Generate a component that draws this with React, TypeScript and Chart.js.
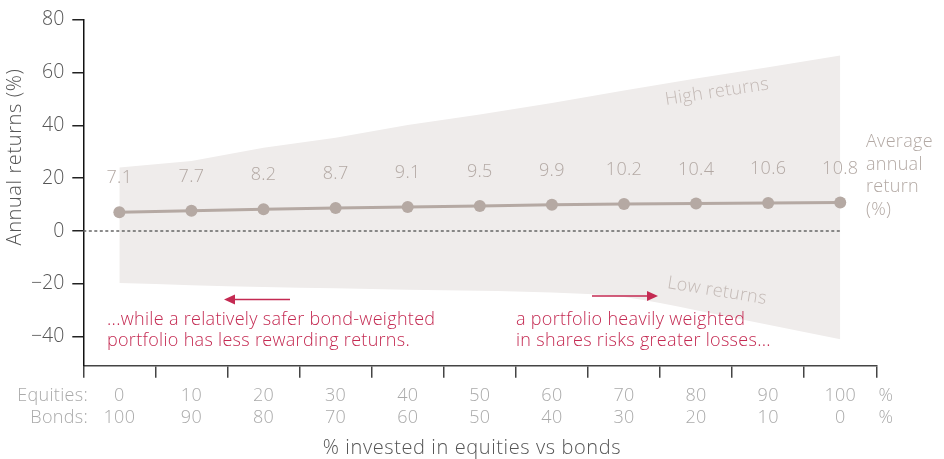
import React, { useEffect, useRef } from "react";
import { Chart, registerables } from "chart.js";

Chart.register(...registerables);

const equities = ["0", "10", "20", "30", "40", "50", "60", "70", "80", "90", "100"];
const bonds = ["100", "90", "80", "70", "60", "50", "40", "30", "20", "10", "0"];
const averageReturn = [7.1, 7.7, 8.2, 8.7, 9.1, 9.5, 9.9, 10.2, 10.4, 10.6, 10.8];
const highReturn = [24, 26.5, 31.5, 35.3, 40.1, 44.1, 48.5, 53.2, 57.7, 62, 66.4];
const lowReturn = [-19.7, -20.5, -21.2, -21.7, -22.2, -22.6, -23.3, -25, -30, -35.5, -41];
const yTicks = [80, 60, 40, 20, 0, -20, -40];

const FONT = "'Open Sans', Roboto, sans-serif";
const RED = "#c42a52";
const LABEL_GREY = "#b3a9a4";
const AXIS_GREY = "#aaaaaa";
const DARK = "#555555";

const overlayPlugin = {
  id: "overlay",
  afterDatasetsDraw(chart: any) {
    const { ctx } = chart;
    const x = chart.scales.x;
    ctx.save();
    const meta = chart.getDatasetMeta(2);
    ctx.font = `300 18px ${FONT}`;
    (ctx as any).letterSpacing = "0.3px";
    ctx.fillStyle = LABEL_GREY;
    ctx.textAlign = "center";
    ctx.textBaseline = "middle";
    meta.data.forEach((pt: any, i: number) => {
      ctx.fillText(averageReturn[i].toFixed(1), pt.x, pt.y - 34);
    });

    // right side legend text
    ctx.textAlign = "left";
    const leg = ["Average", "annual", "return", "(%)"];
    leg.forEach((t, i) => ctx.fillText(t, 866, 142 + i * 22.6));

    // band labels
    ctx.fillStyle = "#c4bab6";
    ctx.save();
    ctx.translate(717, 92);
    ctx.rotate(-0.15);
    ctx.textAlign = "center";
    ctx.fillText("High returns", 0, 0);
    ctx.restore();
    ctx.save();
    ctx.translate(717, 291);
    ctx.rotate(0.16);
    ctx.textAlign = "center";
    ctx.fillText("Low returns", 0, 0);
    ctx.restore();

    // annotations
    ctx.fillStyle = RED;
    ctx.textAlign = "left";
    ctx.fillText("...while a relatively safer bond-weighted", 107, 320);
    ctx.fillText("portfolio has less rewarding returns.", 107, 341);
    ctx.fillText("a portfolio heavily weighted", 516, 320);
    ctx.fillText("in shares risks greater losses...", 516, 341);

    ctx.strokeStyle = RED;
    ctx.lineWidth = 1.5;
    ctx.beginPath();
    ctx.moveTo(290, 299.5);
    ctx.lineTo(232, 299.5);
    ctx.stroke();
    ctx.beginPath();
    ctx.moveTo(224, 299.5);
    ctx.lineTo(235, 294.5);
    ctx.lineTo(235, 304.5);
    ctx.closePath();
    ctx.fill();

    ctx.beginPath();
    ctx.moveTo(592, 296);
    ctx.lineTo(650, 296);
    ctx.stroke();
    ctx.beginPath();
    ctx.moveTo(658, 296);
    ctx.lineTo(647, 291);
    ctx.lineTo(647, 301);
    ctx.closePath();
    ctx.fill();

    // x category labels
    ctx.fillStyle = AXIS_GREY;
    ctx.textAlign = "right";
    ctx.fillText("Equities:", 88, 396);
    ctx.fillText("Bonds:", 88, 418);
    ctx.textAlign = "center";
    equities.forEach((e, i) => {
      const px = x.getPixelForValue(i);
      ctx.fillText(e, px, 396);
      ctx.fillText(bonds[i], px, 418);
    });
    ctx.fillText("%", 886, 396);
    ctx.fillText("%", 886, 418);

    // axis titles
    ctx.fillStyle = DARK;
    ctx.font = `300 20px ${FONT}`;
    (ctx as any).letterSpacing = "0.6px";
    ctx.fillText("% invested in equities vs bonds", 472, 448);
    ctx.save();
    ctx.translate(15, 157);
    ctx.rotate(-Math.PI / 2);
    ctx.fillText("Annual returns (%)", 0, 0);
    ctx.restore();

    ctx.restore();
  },
};

const zeroLinePlugin = {
  id: "zeroLine",
  beforeDatasetDraw(chart: any, args: any) {
    if (args.index !== 2) return;
    const { ctx, chartArea } = chart;
    const x = chart.scales.x;
    const y = chart.scales.y;
    const y0 = y.getPixelForValue(0);
    const xEnd = x.getPixelForValue(equities.length - 1);
    ctx.save();
    ctx.strokeStyle = "#666";
    ctx.lineWidth = 1.5;
    ctx.setLineDash([3, 2.5]);
    ctx.beginPath();
    ctx.moveTo(chartArea.left, y0);
    ctx.lineTo(xEnd + 1, y0);
    ctx.stroke();
    ctx.restore();
  },
};

export default function App() {
  const ref = useRef<HTMLCanvasElement>(null);
  useEffect(() => {
    if (!ref.current) return;
    const chart = new Chart(ref.current, {
      type: "line",
      data: {
        labels: equities,
        datasets: [
          {
            data: highReturn,
            borderWidth: 0,
            pointRadius: 0,
            fill: "+1",
            backgroundColor: "#efeceb",
            borderColor: "rgba(0,0,0,0)",
            tension: 0,
            order: 3,
          },
          {
            data: lowReturn,
            borderWidth: 0,
            pointRadius: 0,
            fill: false,
            borderColor: "rgba(0,0,0,0)",
            tension: 0.35,
            cubicInterpolationMode: "monotone",
            order: 2,
          },
          {
            data: averageReturn,
            borderColor: "#b5a9a3",
            backgroundColor: "#b5a9a3",
            borderWidth: 3,
            pointRadius: 6,
            pointBorderWidth: 0,
            fill: false,
            tension: 0,
            order: 1,
          },
        ],
      },
      options: {
        animation: false,
        responsive: false,
        events: [],
        layout: { padding: { left: 0, right: 67.7, top: 18.3, bottom: 0 } },
        plugins: {
          legend: { display: false },
          tooltip: { enabled: false },
          filler: { drawTime: "beforeDatasetsDraw" } as any,
        },
        scales: {
          x: {
            type: "category",
            offset: true,
            grid: {
              offset: true,
              drawOnChartArea: false,
              drawTicks: true,
              tickLength: 12,
              color: "#444",
              lineWidth: 1.5,
            },
            border: { display: true, color: "#444", width: 1.5 },
            ticks: { display: false },
            afterFit(scale: any) {
              scale.height = 459 - 365.7;
            },
          },
          y: {
            min: -51,
            max: 80,
            afterBuildTicks(scale: any) {
              scale.ticks = yTicks.map((v) => ({ value: v }));
            },
            grid: {
              drawOnChartArea: false,
              drawTicks: true,
              tickLength: 11,
              color: "#222",
              lineWidth: 1.5,
            },
            border: { display: true, color: "#111", width: 1.5 },
            ticks: {
              padding: 8,
              color: DARK,
              font: { family: FONT, size: 19.5, weight: 300 as any },
              callback: (v: any) => (v < 0 ? "\u2212" + Math.abs(v) : String(v)),
            },
            afterFit(scale: any) {
              scale.width = 83.3;
            },
          },
        },
      },
      plugins: [zeroLinePlugin, overlayPlugin],
    });
    return () => chart.destroy();
  }, []);
  return (
    <div style={{ position: "absolute", left: 0, top: 0, width: 944, height: 459, background: "#fff" }}>
      <canvas ref={ref} width={944} height={459} style={{ width: 944, height: 459 }} />
    </div>
  );
}
